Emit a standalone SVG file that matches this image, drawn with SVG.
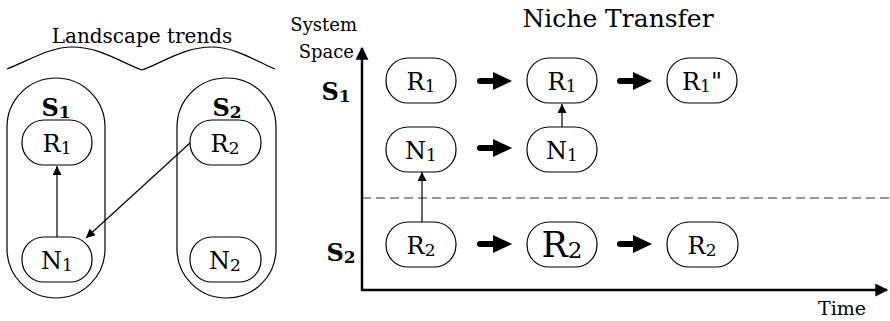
<svg xmlns="http://www.w3.org/2000/svg" width="890" height="321" viewBox="0 0 890 321">
<style>
text{font-family:"DejaVu Serif","Liberation Serif",serif;fill:#000}
.lbl{font-size:24px;text-anchor:middle}
.big{font-size:35px;text-anchor:middle}
.sub{font-size:17px}
.bsub{font-size:23px}
.sl{font-size:24px;font-weight:bold;text-anchor:middle}
.ssub{font-size:17px}
.box{fill:#fff;stroke:#000;stroke-width:1.2}
.cap{fill:none;stroke:#000;stroke-width:1.2}
.thin{fill:none;stroke:#000;stroke-width:1.2}
.axis{fill:none;stroke:#000;stroke-width:2.5}
</style>
<defs>
<marker id="ah" viewBox="0 0 10 10" refX="10" refY="5" markerWidth="10" markerHeight="9" markerUnits="userSpaceOnUse" orient="auto">
<path d="M0,0 L10,5 L0,10 Z" fill="#000"/>
</marker>
<marker id="axh" viewBox="0 0 10 10" refX="9" refY="5" markerWidth="14" markerHeight="13" markerUnits="userSpaceOnUse" orient="auto">
<path d="M0,0 L10,5 L0,10 Z" fill="#000"/>
</marker>
<g id="fat">
<line x1="3" y1="0" x2="18" y2="0" stroke="#000" stroke-width="6" stroke-linecap="round"/>
<polygon points="16,-9 35,0 16,9" fill="#000"/>
</g>
</defs>

<!-- Left panel -->
<g id="landscape">
<text x="142" y="43" style="font-size:20px" text-anchor="middle">Landscape trends</text>
<path class="thin" d="M7,69 C30,60 50,47 72,47 C100,47 120,62 142,70 C164,62 184,47 212,47 C234,47 254,60 275,69"/>
</g>

<g id="S1-left">
<rect class="cap" x="7" y="78" width="98" height="220" rx="49" ry="49"/>
<text class="sl" x="56" y="116">S<tspan class="ssub" dy="2">1</tspan></text>
</g>
<g id="S2-left">
<rect class="cap" x="177" y="78" width="99" height="220" rx="49" ry="49"/>
<text class="sl" x="227" y="116">S<tspan class="ssub" dy="2">2</tspan></text>
</g>

<g id="R1-left">
<rect class="box" x="22" y="120" width="70" height="45" rx="22" ry="22"/>
<text class="lbl" x="57" y="152">R<tspan class="sub" dy="2">1</tspan></text>
</g>
<g id="N1-left">
<rect class="box" x="22" y="237" width="70" height="45" rx="22" ry="22"/>
<text class="lbl" x="57" y="269">N<tspan class="sub" dy="2">1</tspan></text>
</g>
<g id="R2-left">
<rect class="box" x="190" y="120" width="71" height="45" rx="22" ry="22"/>
<text class="lbl" x="225" y="152">R<tspan class="sub" dy="2">2</tspan></text>
</g>
<g id="N2-left">
<rect class="box" x="190" y="237" width="71" height="45" rx="22" ry="22"/>
<text class="lbl" x="225" y="269">N<tspan class="sub" dy="2">2</tspan></text>
</g>

<!-- Right panel -->
<g id="title">
<text x="618" y="27" style="font-size:25px" text-anchor="middle">Niche Transfer</text>
</g>
<g id="axes">
<line class="axis" x1="362" y1="291" x2="362" y2="48" marker-end="url(#axh)"/>
<line class="axis" x1="361" y1="290" x2="887" y2="290" marker-end="url(#axh)"/>
<line x1="362" y1="198" x2="890" y2="198" stroke="#333" stroke-width="1.2" stroke-dasharray="9,5"/>
<text x="357" y="31" style="font-size:18px" text-anchor="end">System</text>
<text x="354" y="58" style="font-size:18px" text-anchor="end">Space</text>
<text x="842" y="315" style="font-size:19px" text-anchor="middle">Time</text>
<text class="sl" x="336" y="100">S<tspan class="ssub" dy="2">1</tspan></text>
<text class="sl" x="341" y="261">S<tspan class="ssub" dy="2">2</tspan></text>
</g>

<g id="R1-t1">
<rect class="box" x="386" y="58" width="70" height="45" rx="22" ry="22"/>
<text class="lbl" x="421" y="90">R<tspan class="sub" dy="2">1</tspan></text>
</g>
<g id="R1-t2">
<rect class="box" x="527" y="58" width="70" height="45" rx="22" ry="22"/>
<text class="lbl" x="562" y="90">R<tspan class="sub" dy="2">1</tspan></text>
</g>
<g id="R1-t3">
<rect class="box" x="667" y="58" width="70" height="45" rx="22" ry="22"/>
<text class="lbl" x="702" y="90">R<tspan class="sub" dy="2">1</tspan><tspan dy="-2">"</tspan></text>
</g>
<g id="N1-t1">
<rect class="box" x="386" y="127" width="70" height="45" rx="22" ry="22"/>
<text class="lbl" x="421" y="159">N<tspan class="sub" dy="2">1</tspan></text>
</g>
<g id="N1-t2">
<rect class="box" x="527" y="127" width="70" height="45" rx="22" ry="22"/>
<text class="lbl" x="562" y="159">N<tspan class="sub" dy="2">1</tspan></text>
</g>
<g id="R2-t1">
<rect class="box" x="386" y="222" width="70" height="45" rx="22" ry="22"/>
<text class="lbl" x="421" y="254">R<tspan class="sub" dy="2">2</tspan></text>
</g>
<g id="R2-t2">
<rect class="box" x="527" y="222" width="70" height="45" rx="22" ry="22"/>
<text class="big" x="562" y="257">R<tspan class="bsub" dy="1">2</tspan></text>
</g>
<g id="R2-t3">
<rect class="box" x="667" y="222" width="71" height="45" rx="22" ry="22"/>
<text class="lbl" x="702" y="254">R<tspan class="sub" dy="2">2</tspan></text>
</g>

<g id="connectors">
<line class="thin" x1="57" y1="237" x2="57" y2="166" marker-end="url(#ah)"/>
<line class="thin" x1="190" y1="143" x2="86" y2="238" marker-end="url(#ah)"/>
<line class="thin" x1="422" y1="222" x2="422" y2="172" marker-end="url(#ah)"/>
<line class="thin" x1="562" y1="127" x2="562" y2="104" marker-end="url(#ah)"/>
<use href="#fat" transform="translate(477,81)"/>
<use href="#fat" transform="translate(617,81)"/>
<use href="#fat" transform="translate(477,148)"/>
<use href="#fat" transform="translate(477,244)"/>
<use href="#fat" transform="translate(617,244)"/>
</g>
</svg>
